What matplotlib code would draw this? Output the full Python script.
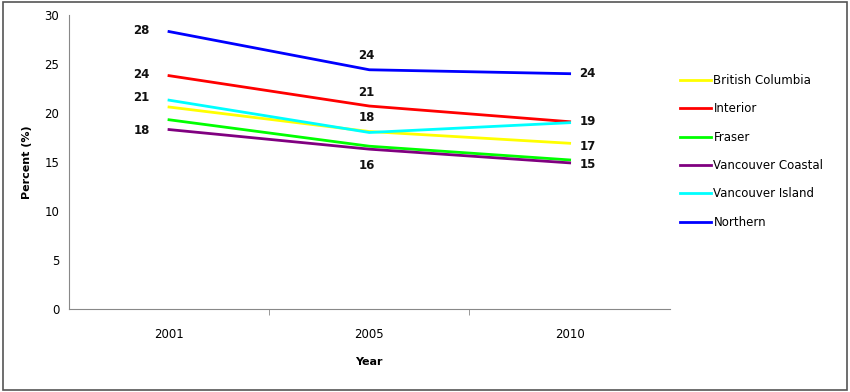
import matplotlib.pyplot as plt
from matplotlib.patches import Rectangle

years = ["2001", "2005", "2010"]
regions = ["British Columbia", "Interior", "Fraser", "Vancouver Coastal",
           "Vancouver Island", "Northern"]
british_columbia = [20.6, 18.1, 16.9]
interior = [23.8, 20.7, 19.1]
fraser = [19.3, 16.6, 15.2]
vancouver_coastal = [18.3, 16.3, 14.9]
vancouver_island = [21.3, 18.0, 19.0]
northern = [28.3, 24.4, 24.0]

series = [british_columbia, interior, fraser, vancouver_coastal,
          vancouver_island, northern]
colors = ["#ffff00", "#ff0000", "#00ff00", "#800080", "#00ffff", "#0000ff"]

# which labels appear at each year: (series index, dx pt, dy pt, ha, va)
label_spec = {
    0: [(5, -14, 1, "right", "center"), (1, -14, 1, "right", "center"),
        (4, -14, 2, "right", "center"), (3, -14, -1, "right", "center")],
    1: [(5, -2, 10, "center", "center"), (1, -2, 10, "center", "center"),
        (4, -2, 11, "center", "center"), (3, -2, -12, "center", "center")],
    2: [(5, 7, 0, "left", "center"), (1, 7, 0, "left", "center"),
        (0, 7, -2, "left", "center"), (3, 7, -1, "left", "center")],
}

fig = plt.figure(figsize=(8.5, 3.92), dpi=100)
fig.patches.append(Rectangle((0.004, 0.004), 0.992, 0.99, transform=fig.transFigure,
                             fill=False, edgecolor="#555555", linewidth=1.2))
ax = fig.add_axes([0.081, 0.212, 0.707, 0.75])

x = list(range(len(years)))
for vals, name, c in zip(series, regions, colors):
    ax.plot(x, vals, color=c, linewidth=2, label=name)

for xi, specs in label_spec.items():
    for si, dx, dy, ha, va in specs:
        v = series[si][xi]
        ax.annotate(f"{v:.0f}", (xi, v), xytext=(dx, dy), textcoords="offset points",
                    ha=ha, va=va, fontsize=8.5, fontweight="bold", color="#111111")

ax.set_xlim(-0.5, 2.5)
ax.set_ylim(0, 30)
ax.set_yticks(range(0, 31, 5))
ax.set_xticks(x)
ax.set_xticklabels(years)
ax.set_xticks([0.5, 1.5], minor=True)
ax.tick_params(axis="x", which="major", length=0, pad=14, labelsize=8.5)
ax.tick_params(axis="x", which="minor", length=4, color="#888888", direction="out")
ax.tick_params(axis="y", length=0, pad=7, labelsize=8.5)
for s in ["top", "right"]:
    ax.spines[s].set_visible(False)
for s in ["left", "bottom"]:
    ax.spines[s].set_color("#888888")
ax.set_ylabel("Percent (%)", fontsize=8, fontweight="bold", labelpad=9)
ax.set_xlabel("Year", fontsize=8, fontweight="bold", labelpad=11)

ax.legend(loc="upper left", bbox_to_anchor=(1.0, 0.835), frameon=False,
          fontsize=8.5, handlelength=2.6, handletextpad=0.2, labelspacing=1.3)

fig.savefig("out.png", dpi=100)
